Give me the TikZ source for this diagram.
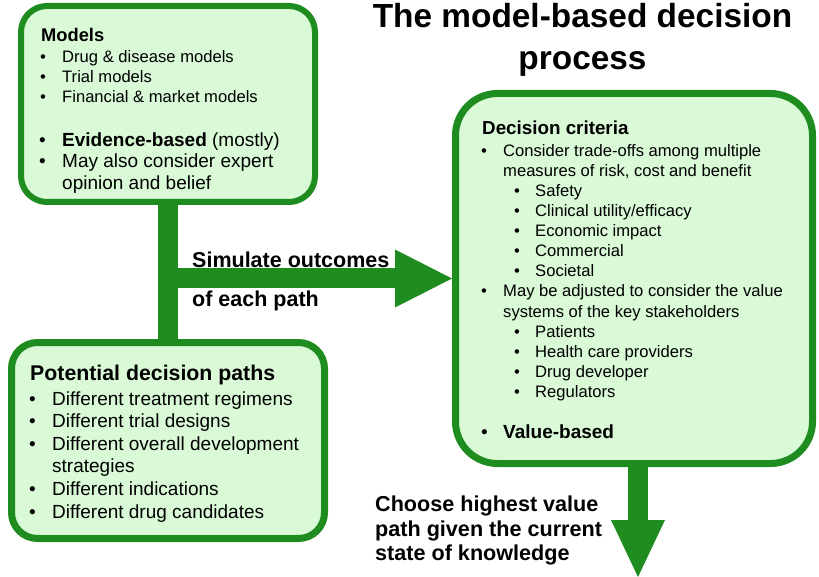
\documentclass[tikz,border=0pt]{standalone}
\usepackage{fontspec}
\setmainfont{Liberation Sans}
\usetikzlibrary{arrows.meta}

\definecolor{leafgreen}{RGB}{30,140,30}
\definecolor{mintfill}{RGB}{217,249,215}

\tikzset{
	panel/.style={draw=leafgreen, fill=mintfill, rounded corners=#1},
	panel/.default=26pt,
	bar/.style={draw=leafgreen, line width=20pt},
	tip/.style={-{Triangle[length=57pt, width=#1, line width=0pt]}},
	body/.style={anchor=base west, inner sep=0pt, font=\fontsize{16.6}{20}\selectfont},
	bodyL/.style={anchor=base west, inner sep=0pt, font=\fontsize{19}{22.5}\selectfont},
	head/.style={anchor=base west, inner sep=0pt, font=\bfseries\fontsize{#1}{22}\selectfont},
	head/.default=18.8
}

\begin{document}
\begin{tikzpicture}[x=1pt, y=-1pt]
	\useasboundingbox (0,0) rectangle (819,577);

	% title
	\node[align=center, inner sep=0pt, font=\bfseries\fontsize{33.4}{42}\selectfont] (title) at (582.5,40) {The model-based decision\\process};

	% boxes
	\node[panel, line width=6pt, minimum width=294pt, minimum height=196pt] (models) at (168,104) {};
	\node[panel, line width=7pt, minimum width=313pt, minimum height=196pt] (paths) at (168,440.5) {};
	\node[panel=42pt, line width=7pt, minimum width=357pt, minimum height=370pt] (criteria) at (634,278.5) {};

	% connectors
	\draw[bar] (models.south) -- (paths.north);
	\coordinate (fork) at (models.south |- criteria.west);
	\draw[bar, tip=58pt] (fork) -- (criteria.west);
	\coordinate (choice) at (638,577);
	\draw[bar, tip=54pt] (choice |- criteria.south) -- (choice);

	\node[head=21.5] (sim) at (192,268) {Simulate outcomes};
	\node[head=21.5] (each) at (192,306) {of each path};
	\node[align=left, anchor=north west, inner sep=0pt, font=\bfseries\fontsize{21.6}{24.8}\selectfont] (choose) at (375,495.5) {Choose highest value\\path given the current\\state of knowledge};

	% models box
	\node[head=18.3] (models-h) at (41,42) {Models};
	\foreach \y/\t in {63/{Drug \& disease models}, 83/{Trial models}, 103/{Financial \& market models}} {
		\node[body] (models-b\y) at (40,\y) {\textbullet};
		\node[body] (models-t\y) at (62,\y) {\t};
	}
	\node[bodyL] (models-b147) at (39,147) {\textbullet};
	\node[bodyL] (models-t147) at (62,147) {\textbf{Evidence-based} (mostly)};
	\node[bodyL] (models-b168) at (39,168) {\textbullet};
	\node[bodyL] (models-t168) at (62,168) {May also consider expert};
	\node[bodyL] (models-t190) at (62,190) {opinion and belief};

	% decision paths box
	\node[head=21.3] (paths-h) at (30,380) {Potential decision paths};
	\foreach \y/\t in {405/{Different treatment regimens}, 427/{Different trial designs}, 450/{Different overall development}, 495/{Different indications}, 518/{Different drug candidates}} {
		\node[bodyL] (paths-b\y) at (29,\y) {\textbullet};
		\node[bodyL] (paths-t\y) at (52,\y) {\t};
	}
	\node[bodyL] (paths-t472) at (52,472) {strategies};

	% decision criteria box
	\node[head] (crit-h) at (482,135) {Decision criteria};
	\foreach \y/\t in {157/{Consider trade-offs among multiple}, 297/{May be adjusted to consider the value}} {
		\node[body] (crit-b\y) at (481,\y) {\textbullet};
		\node[body] (crit-t\y) at (503,\y) {\t};
	}
	\node[body] (crit-t177) at (503,177) {measures of risk, cost and benefit};
	\node[body] (crit-t317) at (503,317) {systems of the key stakeholders};
	\foreach \y/\t in {197/Safety, 217/{Clinical utility/efficacy}, 237/{Economic impact}, 257/Commercial, 277/Societal, 337/Patients, 357/{Health care providers}, 377/{Drug developer}, 397/Regulators} {
		\node[body] (crit-b\y) at (514,\y) {\textbullet};
		\node[body] (crit-t\y) at (535,\y) {\t};
	}
	\node[bodyL] (crit-b438) at (481,438) {\textbullet};
	\node[bodyL] (crit-t438) at (503,438) {\textbf{Value-based}};
\end{tikzpicture}
\end{document}
